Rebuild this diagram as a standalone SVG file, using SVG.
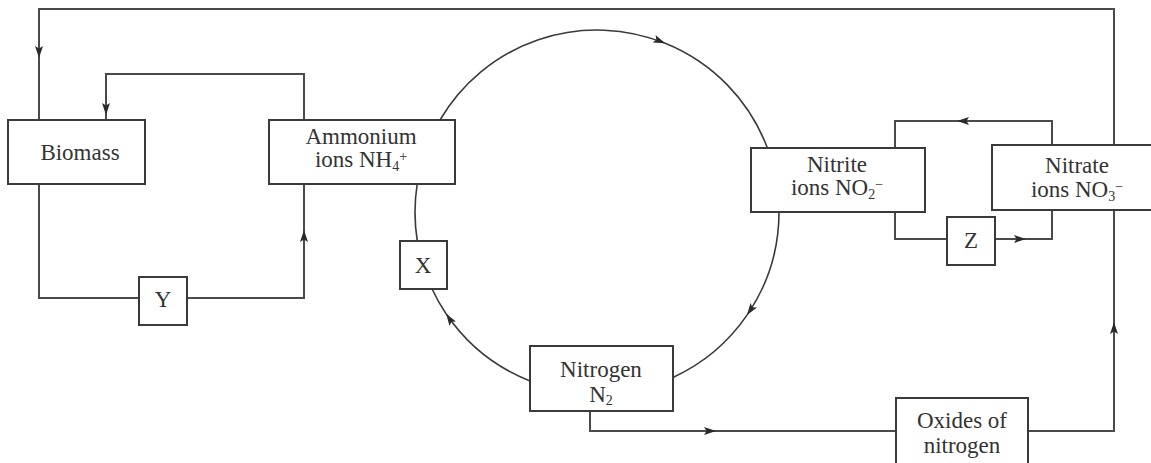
<svg xmlns="http://www.w3.org/2000/svg" width="1151" height="463" viewBox="0 0 1151 463">
<style>
.box{fill:#fff;stroke:#3a3a3a;stroke-width:2}
.ln{fill:none;stroke:#4a4a4a;stroke-width:2}
.arc{fill:none;stroke:#3a3a3a;stroke-width:1.6}
text{font-family:"Liberation Serif","Times New Roman",serif;font-size:23px;fill:#333;text-anchor:middle}
.s{font-size:14px}
</style>
<defs>
<marker id="ah" viewBox="0 0 12 8" refX="12" refY="4" markerWidth="12" markerHeight="8" markerUnits="userSpaceOnUse" orient="auto">
<path d="M0,0 L12,4 L0,8 L2.5,4 z" fill="#2a2a2a"/>
</marker>
</defs>
<rect width="1151" height="463" fill="#fff"/>
<g id="connectors">
<path class="ln" d="M1028,431 H1114 V322" marker-end="url(#ah)"/>
<path class="ln" d="M1114,322 V210"/>
<path class="ln" d="M1114,145 V9 H39 V58" marker-end="url(#ah)"/>
<path class="ln" d="M39,58 V120"/>
<path class="ln" d="M304,120 V74 H106 V115" marker-end="url(#ah)"/>
<path class="ln" d="M106,115 V120"/>
<path class="ln" d="M39,184 V298 H139"/>
<path class="ln" d="M187,298 H304 V230" marker-end="url(#ah)"/>
<path class="ln" d="M304,230 V184"/>
<path class="ln" d="M1052,145 V121 H957" marker-end="url(#ah)"/>
<path class="ln" d="M957,121 H895 V148"/>
<path class="ln" d="M895,212 V239 H947"/>
<path class="ln" d="M995,239 H1026" marker-end="url(#ah)"/>
<path class="ln" d="M1026,239 H1052 V210"/>
<path class="ln" d="M590,411 V431 H716" marker-end="url(#ah)"/>
<path class="ln" d="M716,431 H896"/>
<path class="arc" d="M440,120 A182,182 0 0 1 665.2,43.3" marker-end="url(#ah)"/>
<path class="arc" d="M665.2,43.3 A182,182 0 0 1 767.4,148"/>
<path class="arc" d="M779,212 A182,182 0 0 1 747,315.1" marker-end="url(#ah)"/>
<path class="arc" d="M747,315.1 A182,182 0 0 1 673,377.4"/>
<path class="arc" d="M530,381 A182,182 0 0 1 446.1,313.8" marker-end="url(#ah)"/>
<path class="arc" d="M446.1,313.8 A182,182 0 0 1 431.6,288"/>
<path class="arc" d="M417.2,184 A182,182 0 0 0 417.3,241"/>
</g>
<g id="biomass">
<rect class="box" x="8" y="120" width="137" height="64"/>
<text x="80" y="160">Biomass</text>
</g>
<g id="ammonium">
<rect class="box" x="269" y="120" width="186" height="64"/>
<text x="361" y="144">Ammonium</text>
<text x="361" y="167">ions NH<tspan class="s" dy="4">4</tspan><tspan class="s" dy="-10">+</tspan></text>
</g>
<g id="y">
<rect class="box" x="139" y="277" width="48" height="48"/>
<text x="163" y="307">Y</text>
</g>
<g id="x">
<rect class="box" x="400" y="241" width="47" height="48"/>
<text x="423" y="273">X</text>
</g>
<g id="nitrite">
<rect class="box" x="751" y="148" width="174" height="64"/>
<text x="837" y="172">Nitrite</text>
<text x="837" y="195">ions NO<tspan class="s" dy="4">2</tspan><tspan class="s" dy="-10">−</tspan></text>
</g>
<g id="nitrate">
<rect class="box" x="992" y="145" width="170" height="65"/>
<text x="1077" y="173">Nitrate</text>
<text x="1077" y="197">ions NO<tspan class="s" dy="4">3</tspan><tspan class="s" dy="-10">−</tspan></text>
</g>
<g id="z">
<rect class="box" x="947" y="217" width="48" height="48"/>
<text x="971" y="248">Z</text>
</g>
<g id="nitrogen">
<rect class="box" x="530" y="346" width="143" height="65"/>
<text x="601" y="377">Nitrogen</text>
<text x="601" y="402">N<tspan class="s" dy="3">2</tspan></text>
</g>
<g id="oxides">
<rect class="box" x="896" y="398" width="132" height="80"/>
<text x="962" y="428">Oxides of</text>
<text x="962" y="453">nitrogen</text>
</g>
</svg>
